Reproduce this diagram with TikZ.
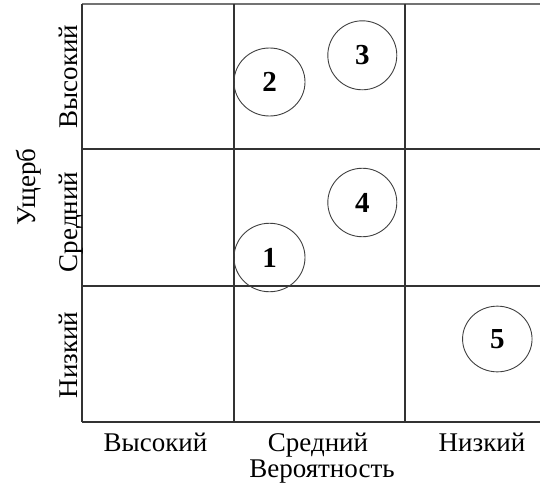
\documentclass[tikz,border=0pt]{standalone}
\usepackage{fontspec}
\setmainfont{Liberation Serif}
\usetikzlibrary{shapes.geometric}

\tikzset{
    gridline/.style={line width=1.4pt, draw=black!80},
    risk/.style={ellipse, draw=black!75, line width=0.9pt, inner sep=0pt,
        font=\fontsize{29}{30}\selectfont\bfseries},
    lbl/.style={font=\fontsize{27}{30}\selectfont, anchor=base, inner sep=0pt},
    vlbl/.style={lbl, rotate=90},
}

\begin{document}
\begin{tikzpicture}[x=1pt, y=-1pt]
    \useasboundingbox (0,0) rectangle (540,487);
    % grid
    \draw[gridline, draw=black!55] (82,4) -- (540,4);
    \draw[gridline] (82,149) -- (540,149);
    \draw[gridline] (82,286) -- (540,286);
    \draw[gridline] (82,422) -- (540,422);
    \draw[gridline] (82,4) -- (82,422);
    \draw[gridline] (234,4) -- (234,422);
    \draw[gridline] (405,4) -- (405,422);

    % risks
    \node[risk, minimum width=71pt, minimum height=68pt] (r2) at (269.5,82) {2};
    \node[risk, minimum width=69pt, minimum height=69pt] (r3) at (362.3,55.3) {3};
    \node[risk, minimum width=69pt, minimum height=68.5pt] (r4) at (362.3,202.5) {4};
    \node[risk, minimum width=71pt, minimum height=68.5pt] (r1) at (269.5,257.5) {1};
    \node[risk, minimum width=69.5pt, minimum height=65.7pt] (r5) at (497.3,339) {5};

    % axis labels
    \node[lbl] (phigh) at (155.5,451) {Высокий};
    \node[lbl] (pmid) at (318,451) {Средний};
    \node[lbl] (plow) at (482,451) {Низкий};
    \node[lbl] (prob) at (322,477.5) {Вероятность};
    \node[vlbl] (dhigh) at (77,76.5) {Высокий};
    \node[vlbl] (dmid) at (77,222) {Средний};
    \node[vlbl] (dlow) at (77,355) {Низкий};
    \node[vlbl] (dmg) at (35,187) {Ущерб};
\end{tikzpicture}
\end{document}
